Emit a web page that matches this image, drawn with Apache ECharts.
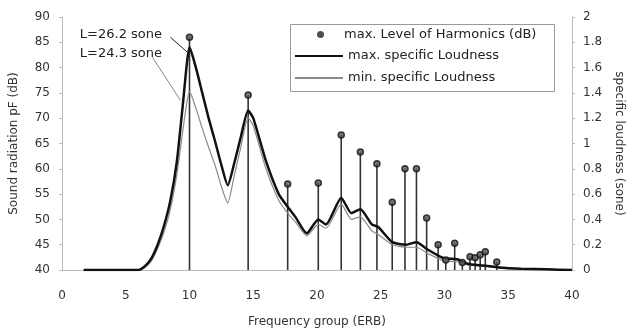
<!DOCTYPE html>
<html><head><meta charset="utf-8">
<script src="https://cdn.jsdelivr.net/npm/echarts@6/dist/echarts.min.js"></script>
<style>html,body{margin:0;padding:0;background:#fff}#c{width:628px;height:331px}</style>
</head><body><div id="c"></div>
<script>
// Harmonics: frequency group (ERB) and max level (dB)
var harmX = [10.0, 14.6, 17.7, 20.1, 21.9, 23.4, 24.7, 25.9, 26.9, 27.8, 28.6, 29.5, 30.1, 30.8, 31.4, 32.0, 32.4, 32.8, 33.2, 34.1];
var harmY = [86, 74.6, 57, 57.2, 66.7, 63.3, 61, 53.4, 60, 60, 50.3, 45, 42, 45.3, 41.5, 42.6, 42.4, 43, 43.6, 41.6];
// specific loudness curves (sone) vs ERB
var loudX   = [1.7, 6, 6.5, 7, 7.5, 8, 8.5, 9, 9.5, 9.8, 10, 10.5, 11, 11.5, 12, 12.5, 13, 13.5, 14, 14.6, 15, 16, 17, 17.7, 18.3, 19.2, 20.1, 20.7, 21.9, 22.7, 23.4, 24.3, 24.8, 25.9, 27, 27.8, 28.7, 29.9, 31, 31.8, 33, 34.3, 36, 38, 40];
var maxLoud = [0, 0, 0.03, 0.09, 0.2, 0.35, 0.55, 0.85, 1.33, 1.64, 1.76, 1.6, 1.4, 1.2, 1.02, 0.83, 0.67, 0.84, 1.04, 1.26, 1.2, 0.86, 0.6, 0.5, 0.42, 0.29, 0.40, 0.36, 0.57, 0.45, 0.48, 0.36, 0.34, 0.22, 0.2, 0.22, 0.16, 0.095, 0.085, 0.05, 0.035, 0.02, 0.01, 0.005, 0];
var minLoud = [0, 0, 0.02, 0.07, 0.17, 0.3, 0.48, 0.75, 1.12, 1.33, 1.41, 1.28, 1.12, 0.97, 0.83, 0.66, 0.53, 0.74, 0.96, 1.2, 1.14, 0.8, 0.55, 0.45, 0.38, 0.27, 0.36, 0.33, 0.52, 0.40, 0.42, 0.31, 0.28, 0.2, 0.18, 0.18, 0.13, 0.075, 0.065, 0.04, 0.03, 0.015, 0.008, 0.004, 0];
var labelMax = 'L=26.2 sone';
var labelMin = 'L=24.3 sone';

var FONT = '"DejaVu Sans", Verdana, sans-serif';
var chart = echarts.init(document.getElementById('c'), null, {renderer: 'canvas'});

var harmData = harmX.map(function (x, i) { return [x, harmY[i]]; });
var maxData = loudX.map(function (x, i) { return [x, maxLoud[i]]; });
var minData = loudX.map(function (x, i) { return [x, minLoud[i]]; });

var axisLabel = {color: '#333', fontSize: 12, fontFamily: FONT};
var nameStyle = {fontSize: 12, fontFamily: FONT, color: '#333'};
chart.setOption({
  animation: false,
  backgroundColor: '#fff',
  grid: {left: 62, right: 56, top: 17, bottom: 61, containLabel: false, outerBoundsMode: 'none'},
  legend: [
    {left: 312, top: 23, orient: 'vertical', itemWidth: 7, itemHeight: 7,
     textStyle: {fontSize: 13, fontFamily: FONT, color: '#222', padding: [0, 0, 0, 15]},
     data: [{name: 'max. Level of Harmonics (dB)', icon: 'circle', itemStyle: {color: '#222', borderWidth: 0}}]},
    {left: 289, top: 44, orient: 'vertical', itemWidth: 48, itemHeight: 10, itemGap: 8,
     textStyle: {fontSize: 13, fontFamily: FONT, color: '#222', lineHeight: 14},
     data: [{name: 'max. specific Loudness', itemStyle: {opacity: 0}},
            {name: 'min. specific Loudness', itemStyle: {opacity: 0}}]}
  ],
  xAxis: {type: 'value', min: 0, max: 40, interval: 5,
    name: 'Frequency group (ERB)', nameLocation: 'middle', nameGap: 46,
    nameTextStyle: nameStyle,
    axisLine: {lineStyle: {color: '#bbb'}}, axisTick: {show: false},
    axisLabel: Object.assign({margin: 20}, axisLabel), splitLine: {show: false}},
  yAxis: [
    {type: 'value', min: 40, max: 90, interval: 5,
     name: 'Sound radiation pF (dB)', nameLocation: 'middle', nameGap: 42,
     nameTextStyle: nameStyle,
     axisLine: {show: true, lineStyle: {color: '#bbb'}}, axisTick: {show: true, length: 3, lineStyle: {color: '#bbb'}},
     axisLabel: Object.assign({margin: 12}, axisLabel), splitLine: {show: false}},
    {type: 'value', min: 0, max: 2, interval: 0.2, position: 'right',
     name: 'specific loudness (sone)', nameLocation: 'middle', nameGap: 38, nameRotate: -90,
     nameTextStyle: nameStyle,
     axisLine: {show: true, lineStyle: {color: '#bbb'}}, axisTick: {show: true, length: 3, lineStyle: {color: '#bbb'}},
     axisLabel: Object.assign({margin: 11, formatter: function (v) { return String(+v.toFixed(1)); }}, axisLabel),
     splitLine: {show: false}}
  ],
  series: [
    {name: 'stems', type: 'custom', yAxisIndex: 0, data: harmData, z: 2,
     renderItem: function (params, api) {
       var x = api.value(0), y = api.value(1);
       var p0 = api.coord([x, 40]), p1 = api.coord([x, y]);
       return {type: 'line', shape: {x1: p0[0], y1: p0[1], x2: p1[0], y2: p1[1]},
         style: {stroke: '#333', lineWidth: 1.6}};
     }},
    {name: 'min. specific Loudness', type: 'line', yAxisIndex: 1, data: minData, smooth: 0.2,
     symbol: 'none', showSymbol: false, lineStyle: {color: '#8a8a8a', width: 1.2}, itemStyle: {color: '#8a8a8a'}, z: 3},
    {name: 'max. specific Loudness', type: 'line', yAxisIndex: 1, data: maxData, smooth: 0.2,
     symbol: 'none', showSymbol: false, lineStyle: {color: '#111', width: 2.5}, itemStyle: {color: '#111'}, z: 4},
    {name: 'max. Level of Harmonics (dB)', type: 'scatter', yAxisIndex: 0, data: harmData,
     symbol: 'circle', symbolSize: 6, itemStyle: {color: '#555', borderColor: '#111', borderWidth: 1.5}, z: 5}
  ]
});

// annotation labels placed via the chart's own scales
function px(x, y) { return chart.convertToPixel({xAxisIndex: 0, yAxisIndex: 1}, [x, y]); }
var a1 = px(1.4, 1.86), a2 = px(1.4, 1.71);
var l1a = px(8.5, 1.84), l1b = px(9.85, 1.72);
var l2a = px(7.1, 1.68), l2b = px(9.3, 1.34);
chart.setOption({graphic: {elements: [
  {id: 'box', type: 'rect', left: 288, top: 22, shape: {width: 264, height: 67}, style: {fill: 'none', stroke: '#999', lineWidth: 1}, z: 10},
  {id: 't1', type: 'text', x: a1[0], y: a1[1], z: 10, style: {text: labelMax, fill: '#222', font: '13px ' + FONT, textVerticalAlign: 'middle', verticalAlign: 'middle'}},
  {id: 't2', type: 'text', x: a2[0], y: a2[1], z: 10, style: {text: labelMin, fill: '#222', font: '13px ' + FONT, textVerticalAlign: 'middle', verticalAlign: 'middle'}},
  {id: 'k1', type: 'line', z: 10, shape: {x1: l1a[0], y1: l1a[1], x2: l1b[0], y2: l1b[1]}, style: {stroke: '#222', lineWidth: 1, fill: null}},
  {id: 'k2', type: 'line', z: 10, shape: {x1: l2a[0], y1: l2a[1], x2: l2b[0], y2: l2b[1]}, style: {stroke: '#888', lineWidth: 1, fill: null}}
]}});
</script></body></html>
